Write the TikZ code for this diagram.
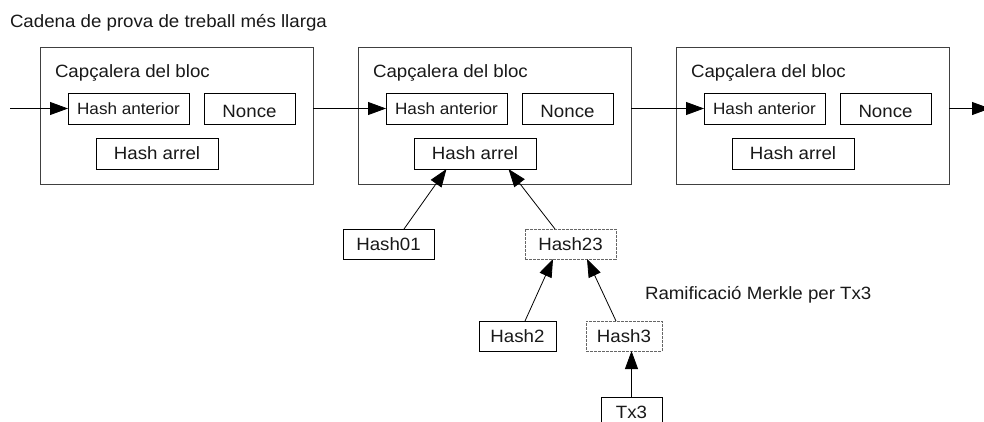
\documentclass[tikz,border=0pt]{standalone}
\usepackage{fontspec}
\setmainfont{Liberation Sans}[FakeStretch=1.05]
\usetikzlibrary{arrows.meta}
\begin{document}
\begin{tikzpicture}[x=1pt,y=-1pt,
  every node/.style={inner sep=0pt,outer sep=0pt,text=black!90},
  blockbox/.style={draw=black!75,line width=0.9pt,minimum width=273pt,minimum height=137pt},
  hbox/.style={draw=black,line width=0.9pt,minimum height=31pt,font=\fontsize{17.8}{20}\selectfont},
  dbox/.style={draw=black!60,line width=0.9pt,dash pattern=on 3pt off 1pt,minimum height=30pt,font=\fontsize{17.8}{20}\selectfont},
  lbl/.style={font=\fontsize{17.8}{20}\selectfont},
  conn/.style={line width=0.8pt,-{Triangle[length=18pt,width=13pt]}}]
\clip (0,0) rectangle (984,421);
\fill[white] (0,0) rectangle (984,421);
\node[lbl,anchor=base west] (title) at (10,27) {Cadena de prova de treball més llarga};
\foreach \i/\L in {1/40,2/358,3/676}{
  \node[blockbox] (b\i) at (\L+136.5,115.5) {};
  \node[lbl,anchor=base west] (cap\i) at (\L+15,77) {Capçalera del bloc};
  \node[hbox,minimum width=121pt,font=\fontsize{16.3}{18}\selectfont] (ha\i) at (\L+88.5,108.5) {Hash anterior};
  \node[hbox,minimum width=91pt,text height=18.8pt,text depth=0pt] (n\i) at (\L+209.5,108.5) {Nonce};
  \node[hbox,minimum width=122pt] (hr\i) at (\L+117,153.5) {Hash arrel};
}
\coordinate (start) at (10,108.5);
\coordinate (finish) at (990,108.5);
\draw[conn] (start) -- (ha1.west);
\draw[conn] (b1.east |- ha1) -- (ha2.west);
\draw[conn] (b2.east |- ha2) -- (ha3.west);
\draw[conn] (b3.east |- ha3) -- (finish);

\node[hbox,minimum width=91pt,minimum height=30pt] (h01) at (388.5,244) {Hash01};
\node[dbox,minimum width=91pt] (h23) at (570.5,244) {Hash23};
\node[hbox,minimum width=77pt,minimum height=30pt] (h2) at (517.5,336) {Hash2};
\node[dbox,minimum width=76pt] (h3) at (624,336) {Hash3};
\node[hbox,minimum width=61pt,minimum height=30pt] (tx3) at (631.5,412) {Tx3};
\node[lbl,anchor=base west] (ram) at (645,299) {Ramificació Merkle per Tx3};

\draw[conn] ([xshift=15.5pt]h01.north) -- ([xshift=-28.5pt]hr2.south);
\draw[conn] ([xshift=-15.5pt]h23.north) -- ([xshift=33.5pt]hr2.south);
\draw[conn] ([xshift=7.5pt]h2.north) -- ([xshift=-17.5pt]h23.south);
\draw[conn] ([xshift=-8pt]h3.north) -- ([xshift=16.5pt]h23.south);
\draw[conn] (tx3.north) -- (tx3.north |- h3.south);
\end{tikzpicture}
\end{document}
